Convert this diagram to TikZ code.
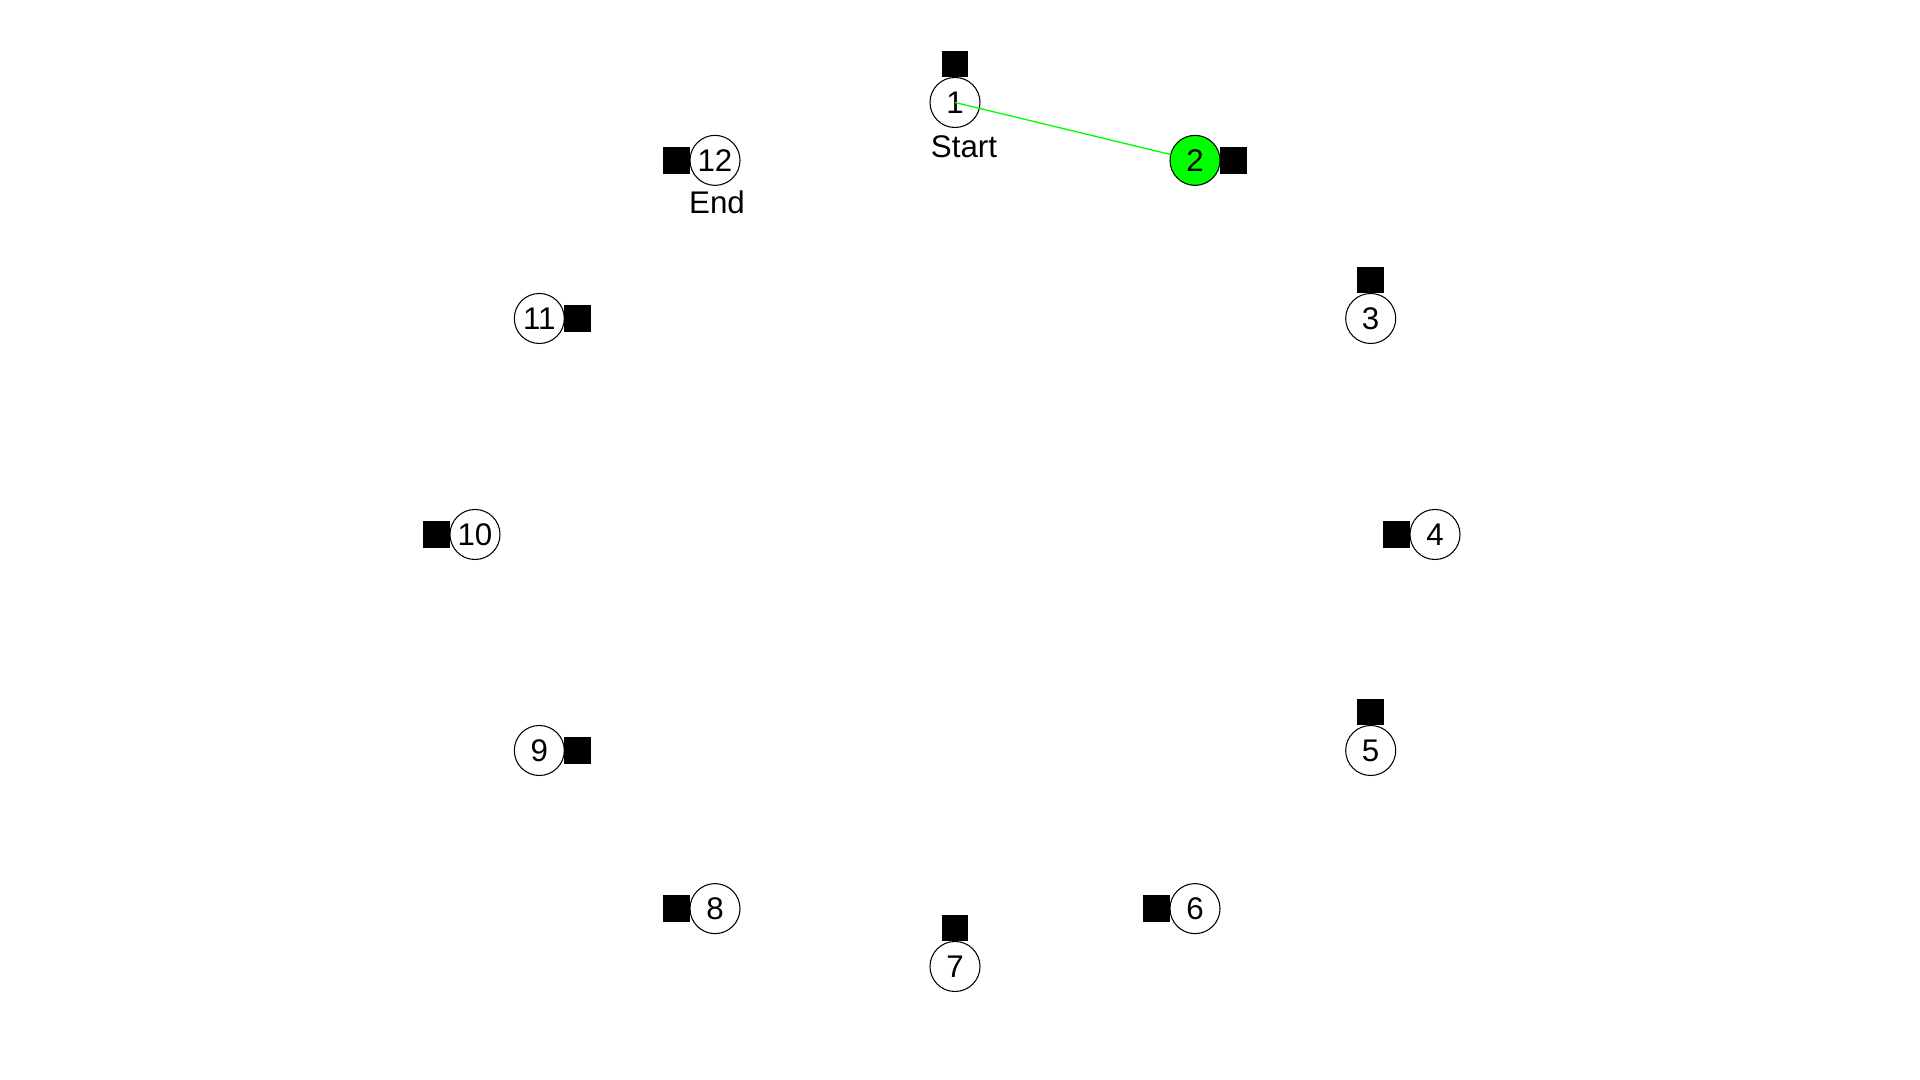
\documentclass[tikz,border=0pt]{standalone}
\usepackage{fontspec}
\setmainfont{Liberation Sans}
\begin{document}
\begin{tikzpicture}[x=0.01cm,y=-0.01cm,
  vtx/.style={circle,draw=black,line width=0.3pt,fill=white,minimum size=0.5cm,inner sep=0pt,outer sep=0pt,font=\fontsize{8.9}{10}\selectfont},
  cur/.style={vtx,fill=green},
  sq/.style={rectangle,fill=black,minimum size=0.265cm,inner sep=0pt,outer sep=0pt},
  lbl/.style={font=\fontsize{8.9}{10}\selectfont,inner sep=0pt},
  path/.style={draw=green,line width=0.38pt}]
\fill[white] (0,0) rectangle (1920,1080);
\useasboundingbox (0,0) rectangle (1920,1080);
\def\cx{955}\def\cy{534.5}
% vertices on the ring
\foreach \k in {1,3,4,5,6,7,8,9,10,11,12}{
  \pgfmathsetmacro\th{(\k-1)*30}
  \node[vtx] (n\k) at ({\cx+480*sin(\th)},{\cy-432*cos(\th)}) {\k};
}
\node[cur] (n2) at ({\cx+480*sin(30)},{\cy-432*cos(30)}) {2};
% markers
\node[sq,anchor=south] (s1) at (n1.north) {};
\node[sq,anchor=west] (s2) at (n2.east) {};
\node[sq,anchor=south] (s3) at (n3.north) {};
\node[sq,anchor=east] (s4) at (n4.west) {};
\node[sq,anchor=south] (s5) at (n5.north) {};
\node[sq,anchor=east] (s6) at (n6.west) {};
\node[sq,anchor=south] (s7) at (n7.north) {};
\node[sq,anchor=east] (s8) at (n8.west) {};
\node[sq,anchor=west] (s9) at (n9.east) {};
\node[sq,anchor=east] (s10) at (n10.west) {};
\node[sq,anchor=west] (s11) at (n11.east) {};
\node[sq,anchor=east] (s12) at (n12.west) {};
% labels
\node[lbl] (start) at (964,147) {Start};
\node[lbl] (end) at (717,202) {End};
% path
\draw[path] (n1.center) -- (n2);
\end{tikzpicture}
\end{document}
